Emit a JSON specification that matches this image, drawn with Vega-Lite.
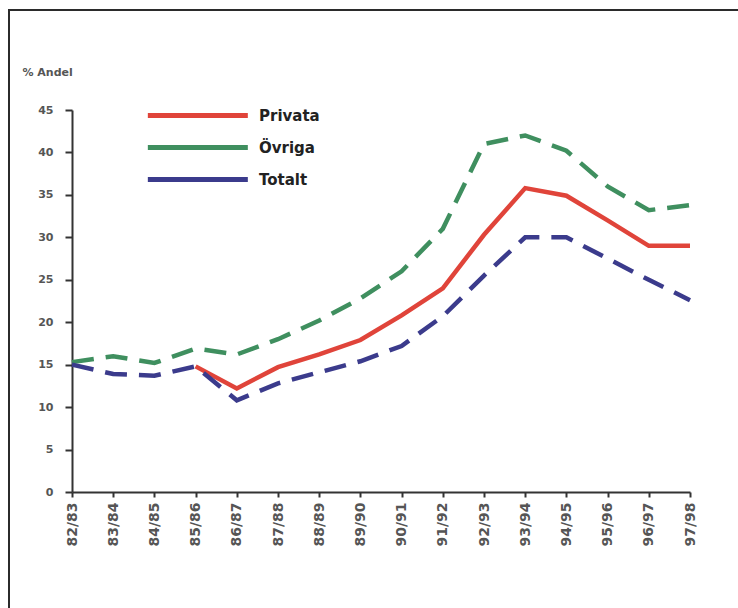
{
  "$schema": "https://vega.github.io/schema/vega-lite/v6.json",
  "width": 740,
  "height": 610,
  "autosize": "none",
  "padding": {"left": 9, "top": 10, "right": 0, "bottom": 0},
  "background": "white",
  "config": {
    "view": {"stroke": "#2b2b2b", "strokeWidth": 2},
    "font": "DejaVu Sans"
  },
  "data": {
    "values": [
      {"season": "82/83", "serie": "Övriga", "value": 15.3},
      {"season": "83/84", "serie": "Övriga", "value": 16.0},
      {"season": "84/85", "serie": "Övriga", "value": 15.2},
      {"season": "85/86", "serie": "Övriga", "value": 16.9},
      {"season": "86/87", "serie": "Övriga", "value": 16.2},
      {"season": "87/88", "serie": "Övriga", "value": 18.0},
      {"season": "88/89", "serie": "Övriga", "value": 20.2},
      {"season": "89/90", "serie": "Övriga", "value": 22.8},
      {"season": "90/91", "serie": "Övriga", "value": 26.0},
      {"season": "91/92", "serie": "Övriga", "value": 31.0},
      {"season": "92/93", "serie": "Övriga", "value": 41.0},
      {"season": "93/94", "serie": "Övriga", "value": 42.0},
      {"season": "94/95", "serie": "Övriga", "value": 40.2},
      {"season": "95/96", "serie": "Övriga", "value": 36.0},
      {"season": "96/97", "serie": "Övriga", "value": 33.2},
      {"season": "97/98", "serie": "Övriga", "value": 33.8},
      {"season": "85/86", "serie": "Privata", "value": 14.8},
      {"season": "86/87", "serie": "Privata", "value": 12.2},
      {"season": "87/88", "serie": "Privata", "value": 14.7},
      {"season": "88/89", "serie": "Privata", "value": 16.2},
      {"season": "89/90", "serie": "Privata", "value": 17.9},
      {"season": "90/91", "serie": "Privata", "value": 20.8},
      {"season": "91/92", "serie": "Privata", "value": 24.0},
      {"season": "92/93", "serie": "Privata", "value": 30.3},
      {"season": "93/94", "serie": "Privata", "value": 35.8},
      {"season": "94/95", "serie": "Privata", "value": 34.9},
      {"season": "95/96", "serie": "Privata", "value": 32.0},
      {"season": "96/97", "serie": "Privata", "value": 29.0},
      {"season": "97/98", "serie": "Privata", "value": 29.0},
      {"season": "82/83", "serie": "Totalt", "value": 15.0},
      {"season": "83/84", "serie": "Totalt", "value": 13.9},
      {"season": "84/85", "serie": "Totalt", "value": 13.7},
      {"season": "85/86", "serie": "Totalt", "value": 14.8},
      {"season": "86/87", "serie": "Totalt", "value": 10.8},
      {"season": "87/88", "serie": "Totalt", "value": 12.8},
      {"season": "88/89", "serie": "Totalt", "value": 14.1},
      {"season": "89/90", "serie": "Totalt", "value": 15.4},
      {"season": "90/91", "serie": "Totalt", "value": 17.2},
      {"season": "91/92", "serie": "Totalt", "value": 20.7},
      {"season": "92/93", "serie": "Totalt", "value": 25.5},
      {"season": "93/94", "serie": "Totalt", "value": 30.0},
      {"season": "94/95", "serie": "Totalt", "value": 30.0},
      {"season": "95/96", "serie": "Totalt", "value": 27.5},
      {"season": "96/97", "serie": "Totalt", "value": 25.0},
      {"season": "97/98", "serie": "Totalt", "value": 22.6}
    ]
  },
  "encoding": {
    "x": {
      "field": "season",
      "type": "ordinal",
      "sort": ["82/83","83/84","84/85","85/86","86/87","87/88","88/89","89/90","90/91","91/92","92/93","93/94","94/95","95/96","96/97","97/98"],
      "scale": {"type": "point", "range": [63, 681], "padding": 0},
      "axis": {
        "title": null,
        "offset": -128,
        "domainColor": "#333333",
        "domainWidth": 2,
        "tickColor": "#333333",
        "tickWidth": 2,
        "tickSize": 5,
        "labelAngle": -90,
        "labelFontSize": 14,
        "labelFontWeight": "bold",
        "labelColor": "#555555",
        "labelPadding": 5
      }
    },
    "y": {
      "field": "value",
      "type": "quantitative",
      "scale": {"domain": [0, 45], "range": [482, 100], "nice": false},
      "axis": {
        "offset": -63,
        "values": [0, 5, 10, 15, 20, 25, 30, 35, 40, 45],
        "grid": false,
        "domainColor": "#333333",
        "domainWidth": 2,
        "tickColor": "#333333",
        "tickWidth": 2,
        "tickSize": 7,
        "labelPadding": 12,
        "labelFontSize": 11,
        "labelFontWeight": "bold",
        "labelColor": "#555555",
        "title": "% Andel",
        "titleAngle": 0,
        "titleAlign": "left",
        "titleBaseline": "middle",
        "titleX": -50,
        "titleY": 62,
        "titleFontSize": 11,
        "titleFontWeight": "bold",
        "titleColor": "#555555"
      }
    },
    "color": {
      "field": "serie",
      "type": "nominal",
      "scale": {
        "domain": ["Privata", "Övriga", "Totalt"],
        "range": ["#e0443a", "#3f8f5f", "#3b3b8c"]
      },
      "legend": {
        "title": null,
        "orient": "none",
        "legendX": 136,
        "legendY": 86,
        "symbolType": "M-1,0H5",
        "symbolSize": 1111,
        "symbolStrokeWidth": 5,
        "symbolDash": [1, 0],
        "labelFontSize": 15,
        "labelFontWeight": "bold",
        "labelColor": "#222222",
        "labelOffset": 75,
        "rowPadding": 2,
        "padding": 0
      }
    }
  },
  "layer": [
    {
      "transform": [{"filter": "datum.serie === 'Privata'"}],
      "mark": {"type": "line", "strokeWidth": 4.5}
    },
    {
      "transform": [{"filter": "datum.serie !== 'Privata'"}],
      "mark": {"type": "line", "strokeWidth": 4.5, "strokeDash": [22, 12]}
    }
  ]
}
